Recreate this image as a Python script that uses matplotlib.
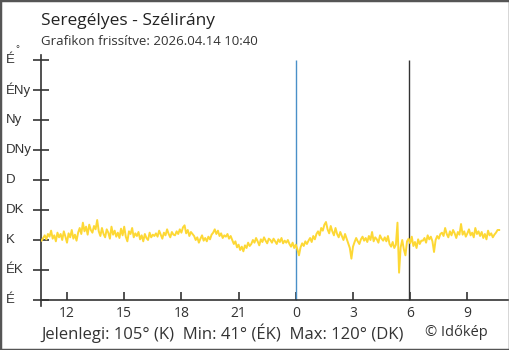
import numpy as np
import matplotlib
matplotlib.use('Agg')
from matplotlib import pyplot as plt
from matplotlib.patches import Rectangle

# wind direction (degrees), 5 minute steps from 10:40 yesterday to 10:40 today
# one row per hour
wind_dir = [
    89, 93, 97, 91, 99, 95, 104, 92, 97, 88, 101, 94,
    99, 90, 103, 95, 86, 100, 94, 105, 92, 98, 89, 101,
    108, 99, 116, 103, 110, 98, 113, 105, 101, 111, 106, 120,
    103, 96, 108, 99, 94, 106, 101, 92, 110, 98, 104, 95,
    101, 93, 107, 97, 110, 95, 88, 103, 99, 108, 94, 100,
    96, 102, 91, 97, 88, 99, 93, 90, 101, 94, 98, 96,
    100, 95, 104, 98, 92, 101, 97, 106, 99, 94, 102, 98,
    97, 103, 99, 106, 101, 109, 112, 100, 105, 96, 102, 99,
    96, 90, 94, 86, 92, 97, 89, 93, 88, 95, 91, 98,
    101, 106, 99, 104, 96, 100, 93, 97, 95, 99, 92, 96,
    90, 84, 88, 79, 83, 75, 80, 73, 82, 78, 86, 81,
    84, 90, 86, 93, 88, 82, 91, 87, 94, 89, 85, 92,
    90, 86, 92, 88, 84, 91, 87, 93, 85, 89, 86, 90,
    84, 80, 86, 78, 83, 76, 67, 79, 85, 81, 88, 84,
    89, 93, 87, 96, 91, 99, 103, 97, 108, 104, 113, 117,
    106, 100, 111, 103, 97, 108, 99, 94, 102, 96, 90, 99,
    92, 85, 78, 62, 80, 87, 93, 88, 84, 91, 95, 89,
    93, 87, 96, 90, 102, 88, 94, 91, 86, 97, 92, 89,
    94, 88, 96, 84, 80, 87, 78, 83, 116, 41, 79, 90,
    76, 67, 88, 92, 85, 95, 81, 87, 78, 91, 84, 89,
    89, 93, 86, 97, 91, 95, 88, 72, 90, 96, 92, 99,
    101, 96, 108, 99, 94, 103, 97, 105, 100, 93, 102, 98,
    114, 98, 103, 95, 100, 106, 97, 101, 94, 108, 99, 103,
    96, 102, 93, 99, 91, 104, 97, 100, 94, 98, 101, 105,
    105,
]
start_hour = -(13 + 20/60.)     # 10:40 the day before, hours relative to midnight
step = 5/60.
times = start_hour + step*np.arange(len(wind_dir))

dir_ticks = [0, 45, 90, 135, 180, 225, 270, 315, 360]
dir_labels = ['É', 'ÉK', 'K', 'DK', 'D', 'DNy', 'Ny', 'ÉNy', 'É']
hour_ticks = [-12, -9, -6, -3, 0, 3, 6, 9]
hour_labels = ['12', '15', '18', '21', '0', '3', '6', '9']
marker_lines = [0.0, 5.92]      # midnight (blue) and the black marker

title = 'Seregélyes - Szélirány'
subtitle = 'Grafikon frissítve: 2026.04.14 10:40'
summary = 'Jelenlegi: 105° (K)  Min: 41° (ÉK)  Max: 120° (DK)'

W, H = 510, 350
fig = plt.figure(figsize=(W/100., H/100.), dpi=100)
ax = fig.add_axes([41/W, (H-306)/H, (508-41)/W, (306-55)/H])

dark = '#333333'
ax.plot(times, wind_dir, color='#fdd835', lw=1.4, zorder=3)
ax.vlines(marker_lines[0], 0, 360, color='#4a90c8', lw=1.0, zorder=2)
ax.vlines(marker_lines[1], 0, 360, color=dark, lw=1.0, zorder=2)

ax.set_xlim(start_hour - 0.03, 11.13)
ax.set_ylim(-9, 367.5)

for s in ['top', 'right']:
    ax.spines[s].set_visible(False)
ax.spines['left'].set_color(dark)
ax.spines['bottom'].set_color(dark)
ax.spines['left'].set_linewidth(1.2)
ax.spines['bottom'].set_linewidth(1.2)
ax.spines['bottom'].set_position(('data', 0))

ax.set_xticks(hour_ticks)
ax.set_xticklabels(hour_labels, fontsize=10, family='Open Sans', color=dark)
ax.tick_params(axis='x', direction='in', length=6, width=1.2, color=dark, pad=4)

ax.set_yticks(dir_ticks)
ax.set_yticklabels([])
ax.tick_params(axis='y', direction='inout', length=12, width=1.2, color=dark)
for v, lab in zip(dir_ticks, dir_labels):
    ax.text(-35/467., v, lab, transform=ax.get_yaxis_transform(), ha='left',
            va='center', fontsize=9.5, family='Liberation Sans', color=dark)
fig.text(15/W, 1 - 49/H, '°', fontsize=7, family='Liberation Sans', color=dark,
         ha='left', va='center')

fig.text(41/W, 1 - 25/H, title, fontsize=12.5, family='Open Sans', color='#222222',
         ha='left', va='baseline')
fig.text(41/W, 1 - 45/H, subtitle, fontsize=9.5, family='Open Sans', color=dark,
         ha='left', va='baseline')
fig.text(41/W, 1 - 339/H, summary, fontsize=12, family='Open Sans', color=dark,
         ha='left', va='baseline')
fig.text(425/W, 1 - 336/H, '© Időkép', fontsize=10.5, family='Open Sans', color=dark,
         ha='left', va='baseline')

fig.patches.append(Rectangle((0, 0), 1, 1, transform=fig.transFigure, fill=False,
                             edgecolor='#555555', lw=2.5))

fig.savefig('out.png', dpi=100)
